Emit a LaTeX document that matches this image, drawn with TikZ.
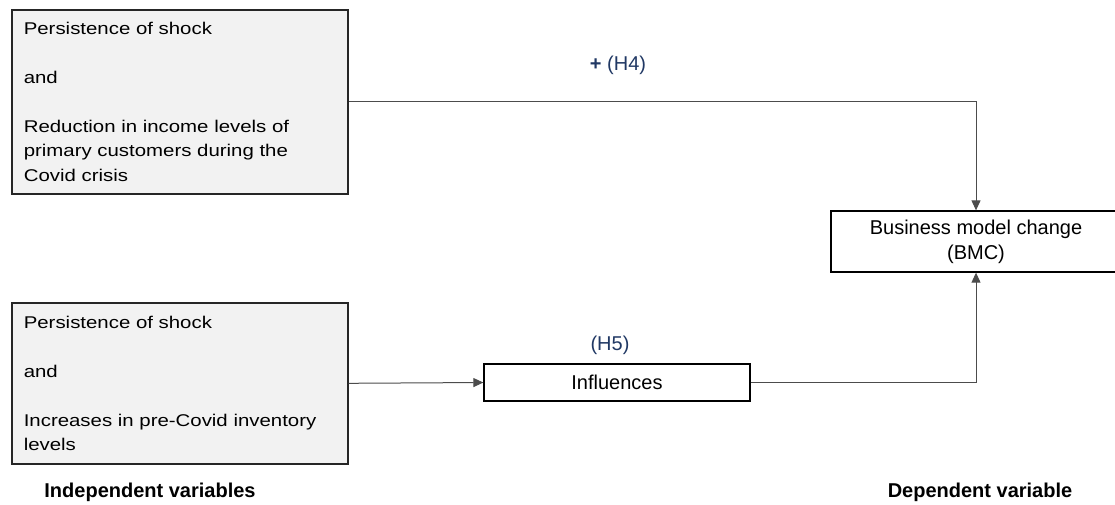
\documentclass[tikz,border=0pt]{standalone}
\usepackage{fontspec}
\setmainfont{Liberation Sans}
\newfontfamily\boxfont{Liberation Sans}[FakeStretch=1.2]
\usetikzlibrary{arrows.meta,positioning}
\definecolor{hypblue}{RGB}{32,56,100}
\definecolor{boxgray}{RGB}{242,242,242}

\begin{document}
\begin{tikzpicture}[x=1pt,y=-1pt,
    ivbox/.style={draw=black!85,line width=1.6pt,fill=boxgray,anchor=north west,
      text width=312pt,inner xsep=12pt,inner ysep=0pt,align=left,
      font=\boxfont\fontsize{17}{24.5}\selectfont},
    plainbox/.style={draw=black,line width=1.3pt,align=center,inner sep=0pt,
      font=\fontsize{20}{25}\selectfont},
    hyp/.style={text=hypblue,font=\fontsize{20}{24}\selectfont},
    axislbl/.style={font=\bfseries\fontsize{20}{24}\selectfont},
    conn/.style={draw=black!70,line width=1pt,-{Triangle[length=10pt,width=9pt]}}]
    \useasboundingbox (0,0) rectangle (1115,504);
    \clip (0,0) rectangle (1115,504);
    % independent variables
    \node[ivbox,minimum height=184pt] (shockA) at (11,9)
      {Persistence of shock\\[24.5pt]and\\[24.5pt]Reduction in income levels of\\primary customers during the\\Covid crisis};
    \node[ivbox,minimum height=161pt] (shockB) at (11,302)
      {Persistence of shock\\[24.5pt]and\\[24.5pt]Increases in pre-Covid inventory\\levels};
    % dependent variable and mediator
    \node[plainbox,minimum width=290pt,minimum height=61pt] (bmc) at (976,241.5)
      {Business model change\\(BMC)};
    \node[plainbox,minimum width=266pt,minimum height=37pt] (infl) at (617,382.5) {Influences};
    % hypotheses
    \node[hyp] (h4lbl) at (618,65) {\textbf{+} (H4)};
    \node[hyp] (h5lbl) at (610,345) {(H5)};
    % arrows
    \draw[conn] (shockA.east) -| (bmc.north);
    \draw[conn] (shockB.east) -- (infl.west);
    \draw[conn] (infl.east) -| (bmc.south);
    % captions
    \node[axislbl] (indep) at (150,492) {Independent variables};
    \node[axislbl] (dep) at (980,492) {Dependent variable};
\end{tikzpicture}
\end{document}
